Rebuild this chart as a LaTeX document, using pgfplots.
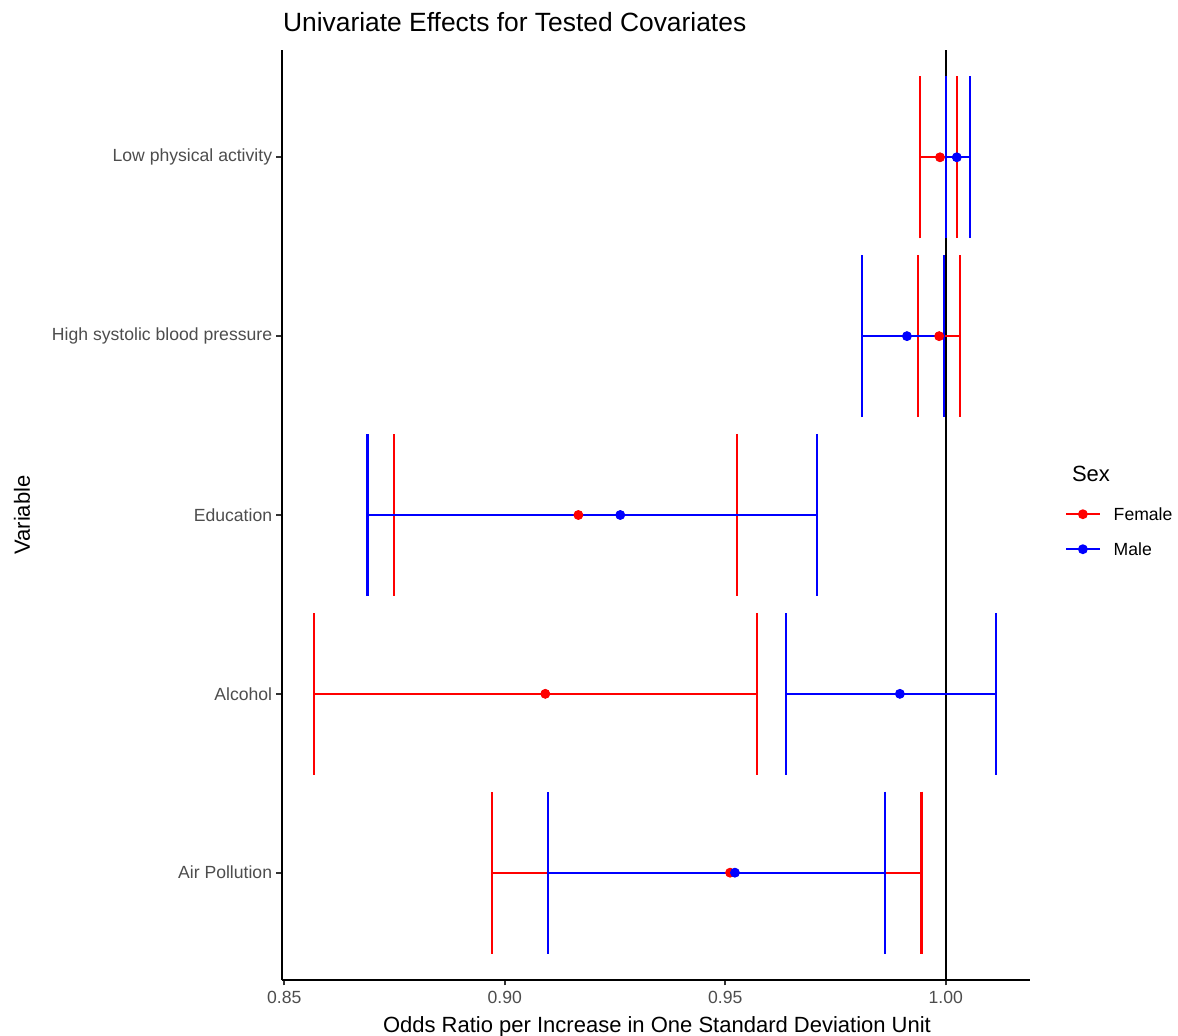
\documentclass[border=0pt]{standalone}
\usepackage{fontspec}
\setmainfont{Liberation Sans}
\usepackage{pgfplots}
\usepackage{pgfplotstable}
\pgfplotsset{compat=1.18}
\definecolor{grey30}{HTML}{4D4D4D}
\definecolor{grey20}{HTML}{333333}
\definecolor{ggred}{HTML}{FF0000}
\definecolor{ggblue}{HTML}{0000FF}

\pgfplotstableread{
y or lo hi
1 0.9511 0.8972 0.9945
2 0.9092 0.8568 0.9572
3 0.9167 0.8748 0.9526
4 0.9985 0.9937 1.0032
5 0.9987 0.9941 1.0026
}\female
\pgfplotstableread{
y or lo hi
1 0.9522 0.9098 0.9862
2 0.9896 0.9637 1.0114
3 0.9262 0.8689 0.9708
4 0.9912 0.9810 0.9996
5 1.0025 1.0001 1.0054
}\male

\begin{document}
\begin{tikzpicture}
\useasboundingbox (-141pt,-28pt) rectangle (448pt,490pt);
\begin{axis}[
  at={(0pt,0pt)}, anchor=south west,
  scale only axis, width=374pt, height=465pt,
  xmin=0.8495, xmax=1.0191, ymin=0.4, ymax=5.6,
  axis lines*=left,
  axis line style={black, line width=1.07pt, -},
  tick align=outside,
  major tick length=2.75pt,
  tick style={grey20, line width=1.07pt},
  xtick={0.85,0.90,0.95,1.00},
  xticklabels={0.85,0.90,0.95,1.00},
  ytick={1,2,3,4,5},
  yticklabels={Air Pollution,Alcohol,Education,High systolic blood pressure,Low physical activity},
  xticklabel style={text=grey30, font=\fontsize{8.8}{10}\selectfont, inner sep=0pt, anchor=north, yshift=-2.5pt},
  yticklabel style={text=grey30, font=\fontsize{8.8}{10}\selectfont, inner sep=0pt, anchor=east, xshift=-2pt},
  /pgf/number format/assume math mode=true,
  legend image code/.code={\draw[#1, mark repeat=2, mark phase=2] plot coordinates {(0pt,0pt) (8.4pt,0pt) (16.8pt,0pt)};},
  legend style={draw=none, fill=none, inner sep=0pt, outer sep=0pt,
    at={(1.0468,0.5076)}, anchor=north west,
    row sep=11.2pt,
    cells={anchor=west},
    nodes={inner sep=0pt, text height=6.3pt, text depth=0pt, font=\fontsize{8.8}{10}\selectfont},
    /tikz/every odd column/.append style={column sep=6.5pt}},
  legend cell align=left,
]
\addplot[black, line width=1.07pt, forget plot] coordinates {(1,0.4) (1,5.6)};

\addplot[only marks, mark=none, forget plot,
  error bars/.cd, x dir=both, x explicit,
  error bar style={ggred, line width=1.07pt},
  error mark options={ggred, line width=1.07pt, rotate=90, mark size=40.5pt}]
  table[x=or, y=y, x error plus expr=\thisrow{hi}-\thisrow{or}, x error minus expr=\thisrow{or}-\thisrow{lo}] {\female};
\addplot[only marks, mark=none, forget plot,
  error bars/.cd, x dir=both, x explicit,
  error bar style={ggblue, line width=1.07pt},
  error mark options={ggblue, line width=1.07pt, rotate=90, mark size=40.5pt}]
  table[x=or, y=y, x error plus expr=\thisrow{hi}-\thisrow{or}, x error minus expr=\thisrow{or}-\thisrow{lo}] {\male};

\addplot[only marks, mark=*, mark size=2.2pt, mark options={fill=ggred, draw=ggred, line width=0.5pt}, forget plot]
  table[x=or, y=y] {\female};
\addplot[only marks, mark=*, mark size=2.2pt, mark options={fill=ggblue, draw=ggblue, line width=0.5pt}, forget plot]
  table[x=or, y=y] {\male};

\addlegendimage{ggred, line width=1.07pt, mark=*, mark size=2.2pt, mark options={fill=ggred, draw=ggred, line width=0.5pt}}
\addlegendentry{Female}
\addlegendimage{ggblue, line width=1.07pt, mark=*, mark size=2.2pt, mark options={fill=ggblue, draw=ggblue, line width=0.5pt}}
\addlegendentry{Male}
\end{axis}
\node[anchor=base west, font=\fontsize{13.2}{15}\selectfont] at (-3pt,474pt) {Univariate Effects for Tested Covariates};
\node[anchor=base, font=\fontsize{11}{13}\selectfont] at (187.5pt,-26.5pt) {Odds Ratio per Increase in One Standard Deviation Unit};
\node[rotate=90, anchor=base, font=\fontsize{11}{13}\selectfont] at (-126pt,232.5pt) {Variable};
\node[anchor=base west, font=\fontsize{11}{13}\selectfont] at (391.5pt,249pt) {Sex};
\end{tikzpicture}
\end{document}
